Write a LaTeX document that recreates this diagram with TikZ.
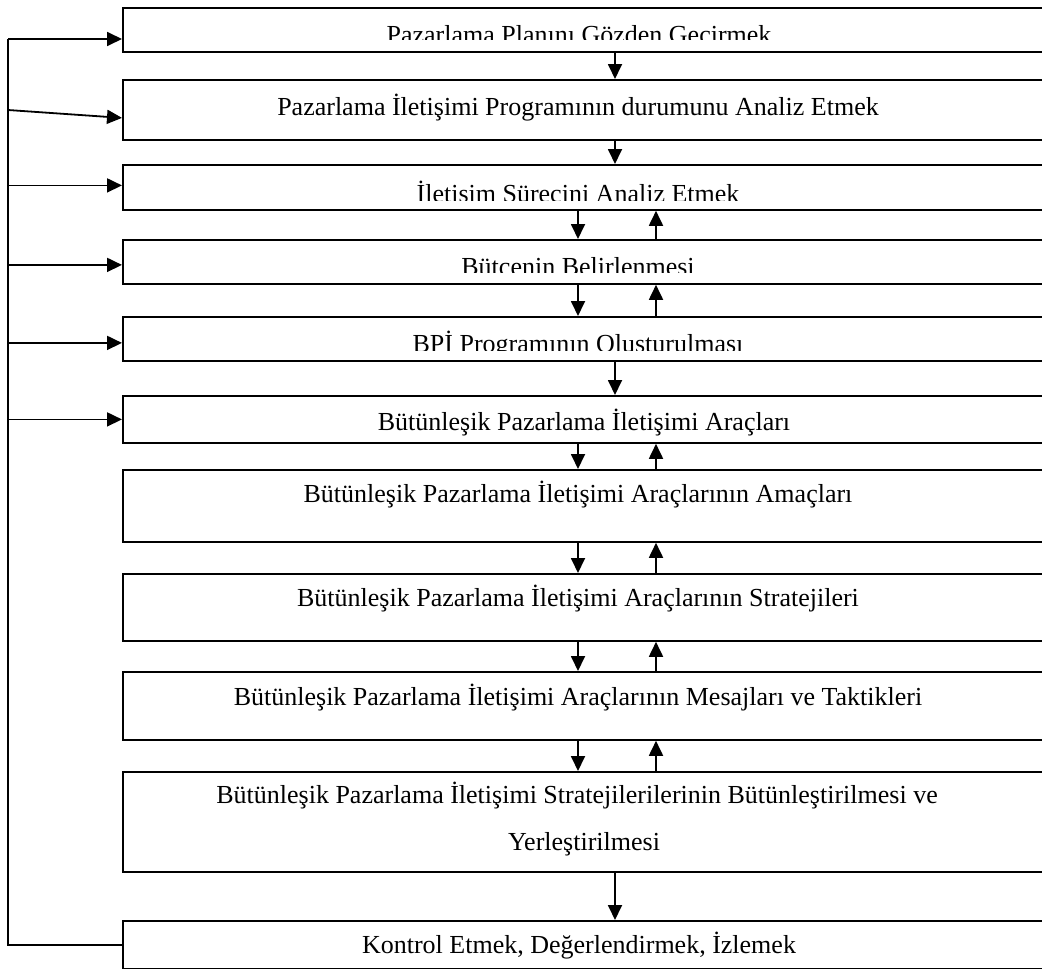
\documentclass[tikz,border=0pt]{standalone}
\usepackage{fontspec}
\setmainfont{Liberation Serif}
\usetikzlibrary{arrows.meta}
\begin{document}
\begin{tikzpicture}[x=1pt,y=-1pt,
  box/.style={draw, line width=1.8pt, minimum width=930pt, inner sep=0pt, anchor=north west},
  lbl/.style={font=\fontsize{26}{31}\selectfont, anchor=base, inner sep=0pt},
  flow/.style={line width=1.8pt, -{Triangle[length=15pt,width=14pt]}},
  link/.style={line width=1.8pt}]
\useasboundingbox (0,0) rectangle (1042,969);
\clip (-1,-1) rectangle (1042,970);

% boxes (open to the right edge)
\node[box, minimum height=44pt]  (b1)  at (122,7)   {};
\node[box, minimum height=60pt]  (b2)  at (122,79)  {};
\node[box, minimum height=45pt]  (b3)  at (122,164) {};
\node[box, minimum height=44pt]  (b4)  at (122,239) {};
\node[box, minimum height=44pt]  (b5)  at (122,316) {};
\node[box, minimum height=47pt]  (b6)  at (122,395) {};
\node[box, minimum height=72pt]  (b7)  at (122,469) {};
\node[box, minimum height=67pt]  (b8)  at (122,573) {};
\node[box, minimum height=68pt]  (b9)  at (122,671) {};
\node[box, minimum height=100pt] (b10) at (122,771) {};
\node[box, minimum height=48pt]  (b11) at (122,920) {};

% labels; the short boxes cut their text off near the bottom
\begin{scope}
  \clip (122,7) rectangle (1042,39.5);
  \node[lbl] (t1) at (579,43) {Pazarlama Planını Gözden Gecirmek};
\end{scope}
\node[lbl] (t2) at (578,115) {Pazarlama İletişimi Programının durumunu Analiz Etmek};
\begin{scope}
  \clip (122,164) rectangle (1042,200);
  \node[lbl] (t3) at (578,202) {İletisim Sürecini Analiz Etmek};
\end{scope}
\begin{scope}
  \clip (122,239) rectangle (1042,272);
  \node[lbl] (t4) at (578,275) {Bütcenin Belirlenmesi};
\end{scope}
\begin{scope}
  \clip (122,316) rectangle (1042,350);
  \node[lbl] (t5) at (578,352) {BPİ Programının Olusturulması};
\end{scope}
\node[lbl] (t6)  at (584,430) {Bütünleşik Pazarlama İletişimi Araçları};
\node[lbl] (t7)  at (578,502) {Bütünleşik Pazarlama İletişimi Araçlarının Amaçları};
\node[lbl] (t8)  at (578,606) {Bütünleşik Pazarlama İletişimi Araçlarının Stratejileri};
\node[lbl] (t9)  at (578,705) {Bütünleşik Pazarlama İletişimi Araçlarının Mesajları ve Taktikleri};
\node[lbl] (t10a) at (577,803) {Bütünleşik Pazarlama İletişimi Stratejilerilerinin Bütünleştirilmesi ve};
\node[lbl] (t10b) at (584,850) {Yerleştirilmesi};
\node[lbl] (t11) at (579,953) {Kontrol Etmek, Değerlendirmek, İzlemek};

% single downward steps
\draw[flow] ([xshift=493pt]b1.south west)  -- ([xshift=493pt]b2.north west);
\draw[flow] ([xshift=493pt]b2.south west)  -- ([xshift=493pt]b3.north west);
\draw[flow] ([xshift=493pt]b5.south west)  -- ([xshift=493pt]b6.north west);
\draw[flow] ([xshift=493pt]b10.south west) -- ([xshift=493pt]b11.north west);

% two-way steps
\foreach \u/\l in {b3/b4, b4/b5, b6/b7, b7/b8, b8/b9, b9/b10} {
  \draw[flow] ([xshift=456pt]\u.south west) -- ([xshift=456pt]\l.north west);
  \draw[flow] ([xshift=534pt]\l.north west) -- ([xshift=534pt]\u.south west);
}

% feedback loop on the left
\coordinate (fb) at (8,39);
\coordinate (fb2) at (8,110);
\draw[link] (b11.west) -| (fb);
\draw[flow] (fb) -- (fb -| b1.west);
\draw[flow] (fb2) -- ([yshift=-8pt]b2.west);
\draw[flow] ([yshift=2pt]b3.west -| fb) -- ([yshift=2pt]b3.west);
\draw[flow] ([yshift=-3pt]b4.west -| fb) -- ([yshift=-3pt]b4.west);
\draw[flow] ([yshift=-4pt]b5.west -| fb) -- ([yshift=-4pt]b5.west);
\draw[flow] (b6.west -| fb) -- (b6.west);
\end{tikzpicture}
\end{document}
